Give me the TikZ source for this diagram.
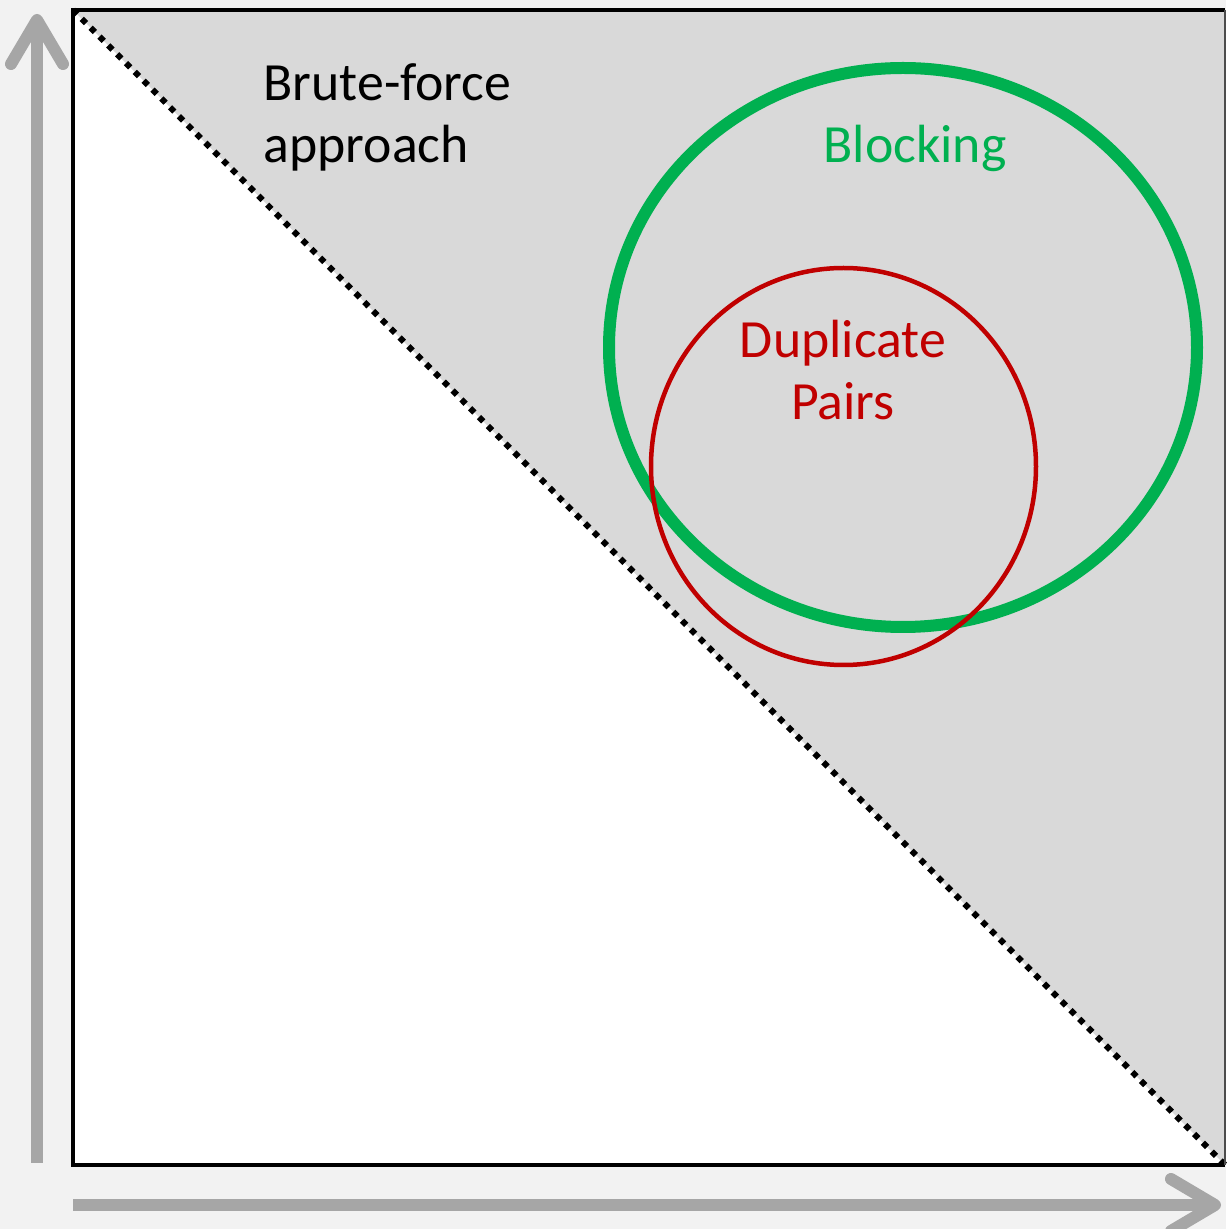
\documentclass[tikz,border=0pt]{standalone}
\usepackage{fontspec}
\setmainfont{Carlito}
\usepackage{xcolor}
\usepackage{tikz}
\usetikzlibrary{arrows.meta}
\definecolor{bkgreen}{HTML}{00B050}
\definecolor{bkred}{HTML}{C00000}
\definecolor{bkshade}{HTML}{D9D9D9}
\definecolor{bkback}{HTML}{F2F2F2}
\definecolor{bkaxis}{HTML}{A6A6A6}
\tikzset{
  bklabel/.style={font=\fontsize{15.3}{17.9}\selectfont, inner sep=0pt},
  bkaxis/.style={draw=bkaxis, line width=0.12cm,
    -{Straight Barb[length=0.44cm, width=0.52cm, round]}},
  bkdiag/.style={draw=black, line width=0.06cm, dash pattern=on 0.06cm off 0.065cm}
}

\begin{document}
\begin{tikzpicture}
  \fill[bkback] (0,0) rectangle (12.26,12.29);
  \useasboundingbox (0,0) rectangle (12.26,12.29);
  % pair space
  \fill[white] (0.73,0.64) rectangle (12.25,12.19);
  \fill[bkshade] (0.73,12.19) -- (12.25,12.19) -- (12.25,0.64) -- cycle;
  \draw[bkdiag] (0.73,12.19) -- (12.25,0.64);
  \draw[black, line width=0.045cm] (12.25,12.19) -- (0.73,12.19) -- (0.73,0.64) -- (12.25,0.64);
  \draw[black!70, line width=0.015cm] (12.25,12.19) -- (12.25,0.64);
  % axes
  \draw[bkaxis] (0.37,0.66) -- (0.37,12.15);
  \draw[bkaxis] (0.73,0.24) -- (12.21,0.24);
  % sets
  \draw[bkgreen, line width=0.12cm] (9.03,8.815) ellipse[x radius=2.94, y radius=2.795];
  \draw[bkred, line width=0.045cm] (8.435,7.625) ellipse[x radius=1.925, y radius=1.985];
  % labels
  \node[bklabel, anchor=base west, align=left] (brute) at (2.63,10.66) {Brute-force\\approach};
  \node[bklabel, anchor=base, text=bkgreen] (blocking) at (9.15,10.66) {Blocking};
  \node[bklabel, anchor=base, align=center, text=bkred] (dup) at (8.43,8.09) {Duplicate\\Pairs};
\end{tikzpicture}
\end{document}
